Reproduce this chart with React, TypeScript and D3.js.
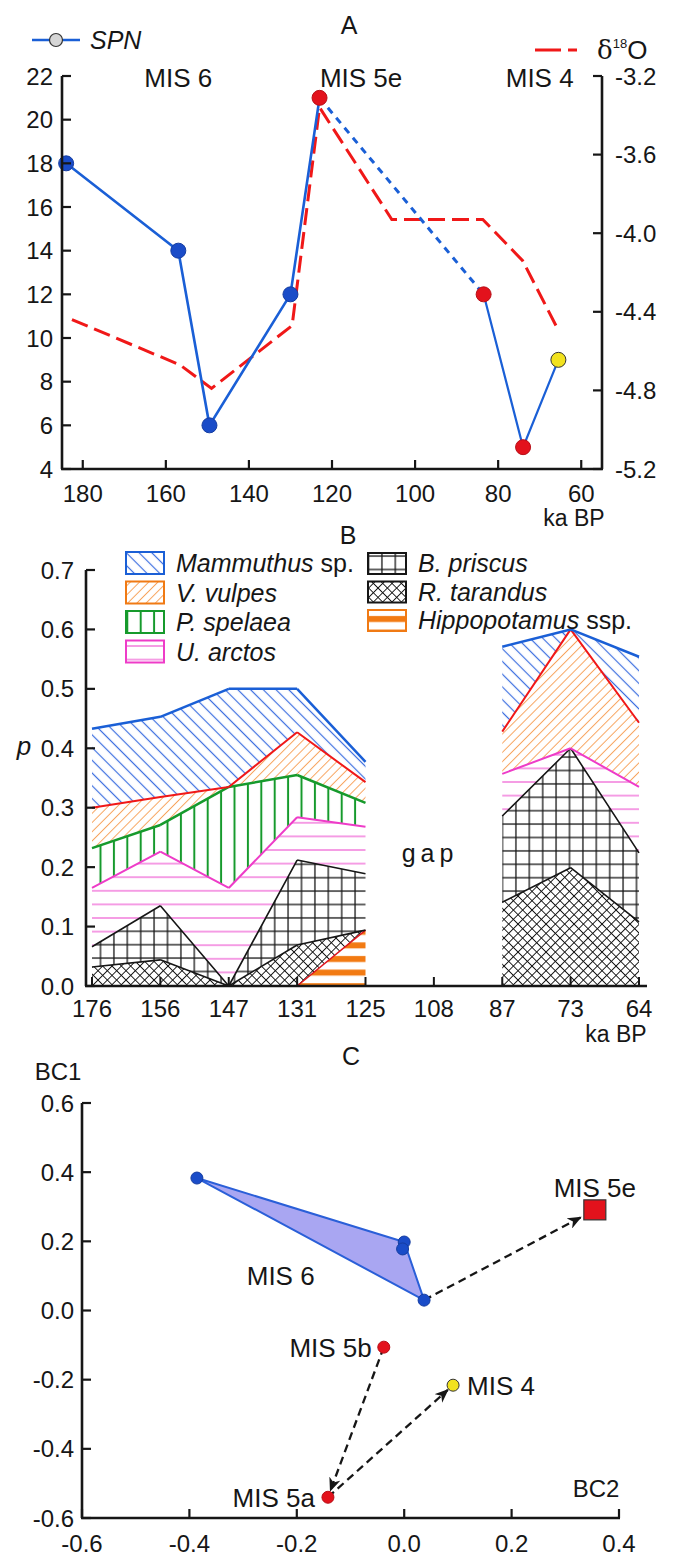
import React from 'react'
import * as d3 from 'd3'

const width = 676
const height = 1557
const font = "'Liberation Sans', Arial, Helvetica, sans-serif"
const ink = '#161616'

// ---------- panel A: SPN and d18O vs age
const spnAge = [184, 157, 149.5, 130, 123, 83.5, 74, 65.5]
const spnValue = [18, 14, 6, 12, 21, 12, 5, 9]
const spnStage = ['MIS 6', 'MIS 6', 'MIS 6', 'MIS 6', 'MIS 5e', 'MIS 5b', 'MIS 5a', 'MIS 4']
const spnGapAfter = 4
const d18oAge = [182.6, 156.6, 149, 129.6, 123, 105.6, 83.7, 74.1, 65.6]
const d18oValue = [-4.44, -4.67, -4.79, -4.47, -3.36, -3.93, -3.93, -4.14, -4.49]
const misLabel = ['MIS 6', 'MIS 5e', 'MIS 4']
const misLabelAge = [157, 113, 70]
const ageTicks = [180, 160, 140, 120, 100, 80, 60]
const spnTicks = [4, 6, 8, 10, 12, 14, 16, 18, 20, 22]
const d18oTicks = [-5.2, -4.8, -4.4, -4.0, -3.6, -3.2]

// ---------- panel B: stacked proportions
const bCats = ['176', '156', '147', '131', '125', '108', '87', '73', '64']
const hippo = [0, 0, 0, 0, 0.094, null, 0, 0, 0]
const tarandus = [0.032, 0.044, 0, 0.069, 0, null, 0.141, 0.199, 0.108]
const priscus = [0.034, 0.091, 0, 0.143, 0.095, null, 0.145, 0.201, 0.116]
const arctos = [0.099, 0.091, 0.165, 0.072, 0.079, null, 0.071, 0, 0.111]
const spelaea = [0.067, 0.045, 0.17, 0.071, 0.04, null, 0, 0, 0]
const vulpes = [0.068, 0.047, 0, 0.072, 0.035, null, 0.071, 0.2, 0.108]
const mammuthus = [0.133, 0.135, 0.165, 0.073, 0.034, null, 0.143, 0, 0.111]
const pTicks = [0, 0.1, 0.2, 0.3, 0.4, 0.5, 0.6, 0.7]

// ---------- panel C: ordination
const bcStage = ['MIS 6', 'MIS 6', 'MIS 6', 'MIS 6', 'MIS 5e', 'MIS 5b', 'MIS 5a', 'MIS 4']
const bc2 = [-0.386, 0.0, -0.003, 0.037, 0.355, -0.038, -0.142, 0.091]
const bc1 = [0.383, 0.198, 0.178, 0.03, 0.291, -0.106, -0.54, -0.216]
const bcArrows = [[3, 4], [5, 6], [6, 7]]
const bc2Ticks = [-0.6, -0.4, -0.2, 0.0, 0.2, 0.4]
const bc1Ticks = [-0.6, -0.4, -0.2, 0.0, 0.2, 0.4, 0.6]

const stageColor = {
  'MIS 6': '#1a4cc8',
  'MIS 5e': '#e3121c',
  'MIS 5b': '#e3121c',
  'MIS 5a': '#e3121c',
  'MIS 4': '#f2e21e',
}

const species = {
  hippo: { values: hippo, name: 'Hippopotamus', suffix: ' ssp.', line: '#e0141c', lw: 1.5, fill: 'url(#pHippo)', box: '#f07a14' },
  tarandus: { values: tarandus, name: 'R. tarandus', suffix: '', line: ink, lw: 1.6, fill: 'url(#pTarandus)', box: ink },
  priscus: { values: priscus, name: 'B. priscus', suffix: '', line: ink, lw: 1.6, fill: 'url(#pPriscus)', box: ink },
  arctos: { values: arctos, name: 'U. arctos', suffix: '', line: '#ee3cc8', lw: 2, fill: 'url(#pArctos)', box: '#ee3cc8' },
  spelaea: { values: spelaea, name: 'P. spelaea', suffix: '', line: '#169a2c', lw: 2.5, fill: 'url(#pSpelaea)', box: '#169a2c' },
  vulpes: { values: vulpes, name: 'V. vulpes', suffix: '', line: '#f01818', lw: 2, fill: 'url(#pVulpes)', box: '#f07a14' },
  mammuthus: { values: mammuthus, name: 'Mammuthus', suffix: ' sp.', line: '#1a5fd6', lw: 2.5, fill: 'url(#pMamm)', box: '#1a5fd6' },
}
const stackKeys = ['hippo', 'tarandus', 'priscus', 'arctos', 'spelaea', 'vulpes', 'mammuthus']
const legendLeft = ['mammuthus', 'vulpes', 'spelaea', 'arctos']
const legendRight = ['priscus', 'tarandus', 'hippo']

const fmt1 = t => t.toFixed(1)

const T = ({ x, y, size = 24, anchor = 'middle', italic = false, children, ...rest }) => (
  <text x={x} y={y + size * 0.36} fontSize={size} textAnchor={anchor}
    fontStyle={italic ? 'italic' : 'normal'} fontFamily={font} fill={ink} {...rest}>
    {children}
  </text>
)

function shorten(p, q, d) {
  const dx = q[0] - p[0], dy = q[1] - p[1]
  const len = Math.hypot(dx, dy)
  return [q[0] - dx / len * d, q[1] - dy / len * d]
}

export default function App() {
  const line = d3.line()

  // ---- A
  const xA = d3.scaleLinear().domain([185, 55]).range([62, 602])
  const yA = d3.scaleLinear().domain([4, 22]).range([469, 76])
  const yA2 = d3.scaleLinear().domain([-5.2, -3.2]).range([469, 76])
  const spnPts = spnAge.map((a, i) => [xA(a), yA(spnValue[i])])
  const d18Pts = d18oAge.map((a, i) => [xA(a), yA2(d18oValue[i])])

  // ---- B
  const xB = d3.scalePoint().domain(bCats).range([92, 639])
  const yB = d3.scaleLinear().domain([0, 0.7]).range([986, 570])
  const rows = bCats.map((c, i) => {
    const r = { cat: c, gap: hippo[i] === null }
    stackKeys.forEach(k => { r[k] = species[k].values[i] })
    return r
  })
  const stacked = d3.stack().keys(stackKeys).value((d, k) => d[k] ?? 0)(rows)
  const area = d3.area()
    .defined(d => !d.data.gap)
    .x(d => xB(d.data.cat))
    .y0(d => yB(d[0]))
    .y1(d => yB(d[1]))
  const topLine = (s, k) => {
    let p = ''
    for (let i = 0; i < s.length - 1; i++) {
      const a = s[i], b = s[i + 1]
      if (a.data.gap || b.data.gap) continue
      if (!(a.data[k] > 0) && !(b.data[k] > 0)) continue
      p += line([[xB(a.data.cat), yB(a[1])], [xB(b.data.cat), yB(b[1])]])
    }
    return p
  }

  // ---- C
  const xC = d3.scaleLinear().domain([-0.6, 0.4]).range([82, 619])
  const yC = d3.scaleLinear().domain([-0.6, 0.6]).range([1518, 1103])
  const cPts = bc2.map((v, i) => [xC(v), yC(bc1[i])])
  const mis6Hull = d3.polygonHull(cPts.filter((_, i) => bcStage[i] === 'MIS 6'))

  const axisW = 2.6

  return (
    <svg width={width} height={height} style={{ position: 'absolute', left: 0, top: 0, background: '#fff' }}>
      <defs>
        <pattern id="pMamm" patternUnits="userSpaceOnUse" width="9" height="9" patternTransform="rotate(45)">
          <line x1="0" y1="4.5" x2="9" y2="4.5" stroke="#3d6fe0" strokeWidth="1.2" />
        </pattern>
        <pattern id="pVulpes" patternUnits="userSpaceOnUse" width="6.5" height="6.5" patternTransform="rotate(-45)">
          <line x1="0" y1="3.25" x2="6.5" y2="3.25" stroke="#f7a45e" strokeWidth="1" />
        </pattern>
        <pattern id="pSpelaea" patternUnits="userSpaceOnUse" width="13.4" height="10">
          <line x1="6.7" y1="0" x2="6.7" y2="10" stroke="#169a2c" strokeWidth="2" />
        </pattern>
        <pattern id="pArctos" patternUnits="userSpaceOnUse" width="10" height="13.6">
          <line x1="0" y1="6.8" x2="10" y2="6.8" stroke="#f06ad6" strokeWidth="1.3" />
        </pattern>
        <pattern id="pPriscus" patternUnits="userSpaceOnUse" width="13.4" height="13.4">
          <line x1="6.7" y1="0" x2="6.7" y2="13.4" stroke={ink} strokeWidth="1.3" />
          <line x1="0" y1="6.7" x2="13.4" y2="6.7" stroke={ink} strokeWidth="1.3" />
        </pattern>
        <pattern id="pTarandus" patternUnits="userSpaceOnUse" width="6.6" height="6.6" patternTransform="rotate(45)">
          <line x1="3.3" y1="0" x2="3.3" y2="6.6" stroke={ink} strokeWidth="1" />
          <line x1="0" y1="3.3" x2="6.6" y2="3.3" stroke={ink} strokeWidth="1" />
        </pattern>
        <pattern id="pHippo" patternUnits="userSpaceOnUse" width="10" height="13.6">
          <rect x="0" y="4" width="10" height="6" fill="#f27a12" />
        </pattern>
        <marker id="arrow" viewBox="0 0 12 10" refX="11" refY="5" markerWidth="14" markerHeight="12"
          markerUnits="userSpaceOnUse" orient="auto">
          <path d="M0,0 L12,5 L0,10 L3.5,5 Z" fill={ink} />
        </marker>
      </defs>

      {/* ================= A ================= */}
      <T x={349} y={25} size={25}>A</T>
      <line x1={32} x2={80} y1={40} y2={40} stroke="#1a5fd6" strokeWidth={2.5} />
      <circle cx={56} cy={40} r={6.5} fill="#d6d6d6" stroke="#333" strokeWidth={1.2} />
      <T x={90} y={40} size={25} anchor="start" italic>SPN</T>
      <line x1={535} x2={577} y1={50} y2={50} stroke="#f01818" strokeWidth={3} strokeDasharray="26 7" />
      <text x={597} y={59} fontFamily={font} fontSize={26} fill={ink}>
        <tspan fontFamily="'DejaVu Serif', serif">δ</tspan>
        <tspan fontSize={13} dy={-11}>18</tspan>
        <tspan dy={11}>O</tspan>
      </text>
      {misLabel.map((m, i) => <T key={m} x={xA(misLabelAge[i])} y={78} size={26}>{m}</T>)}

      <path d={line(d18Pts)} fill="none" stroke="#f01818" strokeWidth={3} strokeDasharray="17 7" />
      <path d={line(spnPts.slice(0, spnGapAfter + 1))} fill="none" stroke="#1a5fd6" strokeWidth={2.6} />
      <path d={line(spnPts.slice(spnGapAfter, spnGapAfter + 2))} fill="none" stroke="#1a5fd6" strokeWidth={3} strokeDasharray="7 6" />
      <path d={line(spnPts.slice(spnGapAfter + 1))} fill="none" stroke="#1a5fd6" strokeWidth={2.2} />
      {spnPts.map((p, i) => (
        <circle key={i} cx={p[0]} cy={p[1]} r={7.5} fill={stageColor[spnStage[i]]}
          stroke={spnStage[i] === 'MIS 4' ? '#333' : d3.color(stageColor[spnStage[i]]).darker(0.6)} strokeWidth={1} />
      ))}

      <line x1={62} x2={62} y1={yA(22)} y2={yA(4)} stroke={ink} strokeWidth={axisW} />
      <line x1={602} x2={602} y1={yA(22)} y2={yA(4)} stroke={ink} strokeWidth={axisW} />
      <line x1={61} x2={603} y1={yA(4)} y2={yA(4)} stroke={ink} strokeWidth={axisW} />
      {spnTicks.map(t => (
        <g key={t}>
          <line x1={62} x2={71} y1={yA(t)} y2={yA(t)} stroke={ink} strokeWidth={2.2} />
          <T x={53} y={yA(t)} size={24} anchor="end">{t}</T>
        </g>
      ))}
      {d18oTicks.map(t => (
        <g key={t}>
          <line x1={593} x2={602} y1={yA2(t)} y2={yA2(t)} stroke={ink} strokeWidth={2.2} />
          <T x={615} y={yA2(t)} size={24} anchor="start">{fmt1(t)}</T>
        </g>
      ))}
      {ageTicks.map(t => (
        <g key={t}>
          <line x1={xA(t)} x2={xA(t)} y1={yA(4)} y2={yA(4) - 9} stroke={ink} strokeWidth={2.2} />
          <T x={xA(t)} y={493} size={24}>{t}</T>
        </g>
      ))}
      <T x={574} y={518} size={23}>ka BP</T>

      {/* ================= B ================= */}
      <T x={348} y={535} size={25}>B</T>
      {stacked.map(s => <path key={s.key} d={area(s)} fill={species[s.key].fill} stroke="none" />)}
      {stacked.map(s => (
        <path key={s.key + 'l'} d={topLine(s, s.key)} fill="none" stroke={species[s.key].line} strokeWidth={species[s.key].lw} />
      ))}
      <T x={430} y={853} size={25} letterSpacing={5}>gap</T>

      {legendLeft.map((k, i) => (
        <g key={k}>
          <rect x={126} y={552 + i * 29.5} width={38} height={22} fill={species[k].fill} stroke={species[k].box} strokeWidth={2} />
          <T x={176} y={563 + i * 29.5} size={25} anchor="start">
            <tspan fontStyle="italic">{species[k].name}</tspan>
            <tspan>{species[k].suffix}</tspan>
          </T>
        </g>
      ))}
      {legendRight.map((k, i) => (
        <g key={k}>
          <rect x={368} y={553 + i * 28.5} width={38} height={21} fill={species[k].fill} stroke={species[k].box} strokeWidth={2} />
          <T x={418} y={563 + i * 28.5} size={25} anchor="start">
            <tspan fontStyle="italic">{species[k].name}</tspan>
            <tspan>{species[k].suffix}</tspan>
          </T>
        </g>
      ))}

      <line x1={86} x2={86} y1={yB(0.7)} y2={yB(0)} stroke={ink} strokeWidth={axisW} />
      <line x1={85} x2={647} y1={yB(0)} y2={yB(0)} stroke={ink} strokeWidth={axisW} />
      {pTicks.map(t => (
        <g key={t}>
          <line x1={86} x2={95} y1={yB(t)} y2={yB(t)} stroke={ink} strokeWidth={2.2} />
          <T x={74} y={yB(t)} size={24} anchor="end">{fmt1(t)}</T>
        </g>
      ))}
      {bCats.map(c => (
        <g key={c}>
          <line x1={xB(c)} x2={xB(c)} y1={yB(0)} y2={yB(0) - 9} stroke={ink} strokeWidth={2} />
          <T x={xB(c)} y={1008} size={24}>{c}</T>
        </g>
      ))}
      <T x={24} y={746} size={26} italic>p</T>
      <T x={616} y={1034} size={23}>ka BP</T>

      {/* ================= C ================= */}
      <T x={351} y={1056} size={25}>C</T>
      <T x={58} y={1071} size={24}>BC1</T>
      <T x={596} y={1488} size={24}>BC2</T>

      <path d={line(mis6Hull) + 'Z'} fill="#a9a6f2" stroke="#2a5fd8" strokeWidth={2} strokeLinejoin="round" />
      {bcArrows.map(([a, b], i) => {
        const end = shorten(cPts[a], cPts[b], bcStage[b] === 'MIS 5e' ? 16 : 7)
        return <path key={i} d={line([cPts[a], end])} fill="none" stroke={ink} strokeWidth={2.3}
          strokeDasharray="8 5" markerEnd="url(#arrow)" />
      })}
      {cPts.map((p, i) => bcStage[i] === 'MIS 5e'
        ? <rect key={i} x={p[0] - 11} y={p[1] - 10} width={22} height={20} fill={stageColor[bcStage[i]]} stroke="#333" strokeWidth={1.2} />
        : <circle key={i} cx={p[0]} cy={p[1]} r={6} fill={stageColor[bcStage[i]]}
            stroke={bcStage[i] === 'MIS 4' ? '#333' : d3.color(stageColor[bcStage[i]]).darker(0.6)} strokeWidth={1} />)}

      <T x={xC(-0.23)} y={yC(0.1)} size={26}>MIS 6</T>
      <T x={xC(0.355)} y={yC(0.291) - 22} size={26}>MIS 5e</T>
      <T x={xC(-0.038) - 12} y={yC(-0.106)} size={26} anchor="end">MIS 5b</T>
      <T x={xC(0.091) + 14} y={yC(-0.216)} size={26} anchor="start">MIS 4</T>
      <T x={xC(-0.142) - 13} y={yC(-0.54)} size={26} anchor="end">MIS 5a</T>

      <line x1={82} x2={82} y1={yC(0.6)} y2={yC(-0.6)} stroke={ink} strokeWidth={axisW} />
      <line x1={81} x2={620} y1={yC(-0.6)} y2={yC(-0.6)} stroke={ink} strokeWidth={axisW} />
      {bc1Ticks.map(t => (
        <g key={t}>
          <line x1={82} x2={91} y1={yC(t)} y2={yC(t)} stroke={ink} strokeWidth={2.2} />
          <T x={74} y={yC(t)} size={24} anchor="end">{fmt1(t)}</T>
        </g>
      ))}
      {bc2Ticks.map(t => (
        <g key={t}>
          <line x1={xC(t)} x2={xC(t)} y1={yC(-0.6)} y2={yC(-0.6) - 9} stroke={ink} strokeWidth={2.2} />
          <T x={xC(t)} y={1543} size={24}>{fmt1(t)}</T>
        </g>
      ))}
    </svg>
  )
}
